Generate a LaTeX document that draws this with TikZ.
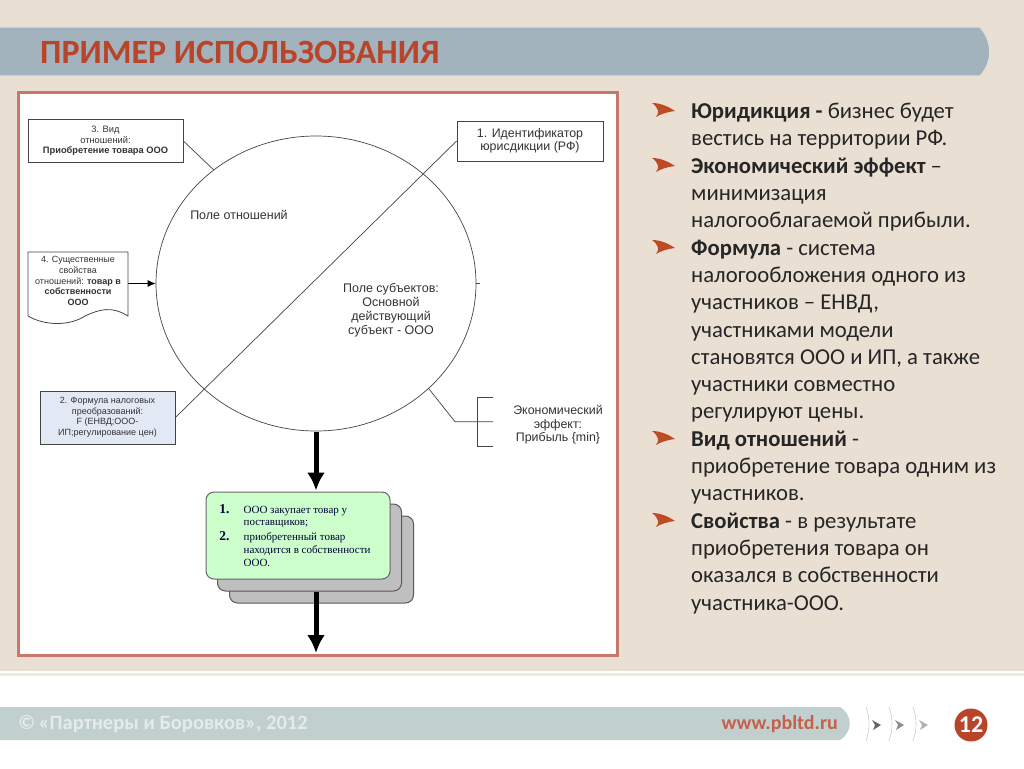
\documentclass[tikz,border=0pt]{standalone}
\usepackage{fontspec}
\setmainfont{Liberation Sans}
\newfontfamily\slidefont{Carlito}
\newfontfamily\stepfont{Liberation Serif}
\usetikzlibrary{shapes.geometric}
\usetikzlibrary{arrows.meta}
\definecolor{pagebg}{HTML}{EADFD3}
\definecolor{framered}{HTML}{C8776A}
\definecolor{barblue}{HTML}{A2B3BE}
\definecolor{footbar}{HTML}{C1CFCF}
\definecolor{rust}{HTML}{B8452A}
\definecolor{pale}{HTML}{E4EBEB}
\definecolor{linegray}{HTML}{444444}
\definecolor{paleblue}{HTML}{E2E9F4}
\definecolor{cardgreen}{HTML}{CCFFCC}
\tikzset{x=1pt,y=-1pt,
    every node/.style={text=black!80,inner sep=0pt},
    infobox/.style={
        draw=linegray,
        line width=0.8pt,
        fill=white,
        align=center},
    caption/.style={
        align=center,
        font=\fontsize{12.5}{14}\selectfont},
    link/.style={
        draw=linegray,
        line width=0.7pt},
    heavy/.style={
        draw=black,
        line width=5pt,
        -{Latex[length=18pt,width=18pt]}},
    stackcard/.style={
        draw=black!65,
        line width=1pt,
        fill=black!25,
        rounded corners=8pt,
        minimum width=184pt,
        minimum height=87pt},
    chevron/.pic={
        \fill[#1] (-12,-8) .. controls (-3,-8) and (5,-4) .. (11,0)
            .. controls (3,1) and (-3,3) .. (-8,6)
            .. controls (-4,2) and (-6,-4) .. (-12,-8) -- cycle;}}
\begin{document}
\begin{tikzpicture}
    \useasboundingbox (0,0) rectangle (1024,768);
    % slide
    \fill[pagebg] (0,0) rectangle (1024,768);
    \fill[white] (0,671) rectangle (1024,768);
    \fill[pagebg!70] (0,673) rectangle (1024,676);
    \draw[fill=barblue,draw=black!12,line width=1.2pt] (-2,27) -- (980,27)
        .. controls (993,42) and (993,62) .. (980,76) -- (-2,76) -- cycle;
    \node[anchor=west,text=rust,font=\slidefont\bfseries\fontsize{34}{36}\selectfont] (title) at (40,52) {ПРИМЕР ИСПОЛЬЗОВАНИЯ};

    % diagram
    \draw[draw=framered,line width=3pt,fill=white] (18.5,92) rectangle (617.5,655.5);
    \node[draw=linegray,line width=0.7pt,ellipse,minimum width=320pt,minimum height=295pt] (field) at (316,283.5) {};
    \node[infobox,minimum width=155pt,minimum height=43pt,font=\fontsize{9.3}{10.5}\selectfont] (kind) at (105.5,141)
        {3. Вид\\отношений:\\\textbf{Приобретение товара ООО}};
    \node[infobox,minimum width=146pt,minimum height=40pt,font=\fontsize{12.4}{13.5}\selectfont] (juris) at (530,141)
        {1. Идентификатор\\юрисдикции (РФ)};
    \node[infobox,fill=paleblue,minimum width=135pt,minimum height=53pt,font=\fontsize{9}{10.5}\selectfont] (formula) at (107.5,417.5)
        {2. Формула налоговых\\преобразований:\\F (ЕНВД;ООО-\\ИП;регулирование цен)};
    \draw[infobox] (28,252) -- (128,252) -- (128,316)
        .. controls (112,306) and (100,309) .. (85,316)
        .. controls (70,326) and (45,326) .. (28,316) -- cycle;
    \node[align=center,minimum width=100pt,font=\fontsize{9}{10.6}\selectfont] (props) at (78,281)
        {4. Существенные\\свойства\\отношений: \textbf{товар в}\\\textbf{собственности}\\\textbf{ООО}};
    \node[caption] (relfield) at (239,215) {Поле отношений};
    \node[caption] (subjfield) at (391,310) {Поле субъектов:\\Основной\\действующий\\субъект - ООО};
    \node[align=center,font=\fontsize{12.4}{13.5}\selectfont] (effect) at (558,425) {Экономический\\эффект:\\Прибыль \{min\}};

    \coordinate (tick) at (480,283.5);
    \coordinate (knee) at (455,421.7);
    \coordinate (forkmid) at (493,421.7);
    \coordinate (forktop) at (493,397);
    \coordinate (forkbot) at (493,446);
    \coordinate (forkup) at (477,397);
    \coordinate (forkdown) at (477,446);
    \draw[link] (juris.west) -- (formula.east);
    \draw[link] (kind.east) -- (field.132);
    \draw[link] (field.east) -- (tick);
    \draw[link] (field.-43.5) -- (knee) -- (forkmid);
    \draw[link] (forktop) -- (forkup) -- (forkdown) -- (forkbot);
    \draw[line width=0.8pt,-{Latex[length=8pt,width=7pt]}] (props.east |- field.west) -- (field.west);

    \node[stackcard] (cardback) at (321.5,559.5) {};
    \node[stackcard] (cardmid) at (309.5,547.5) {};
    \node[stackcard,fill=cardgreen,draw=black!60] (cardfront) at (298,535.5) {};
    \node[text=blue!20!black,font=\stepfont\fontsize{11}{12.6}\selectfont] (steps) at (295,537) {%
        \begin{tabular}{@{}l@{\hskip 14pt}l@{}}
            \textbf{\fontsize{13.5}{12.6}\selectfont 1.} & ООО закупает товар у\\
            & поставщиков;\\[2.5pt]
            \textbf{\fontsize{13.5}{12.6}\selectfont 2.} & приобретенный товар\\
            & находится в собственности\\
            & ООО.
        \end{tabular}};
    \coordinate (inflow) at (316,432);
    \coordinate (outlet) at (316,653);
    \draw[heavy] (inflow) -- ([yshift=1pt]cardfront.north -| inflow);
    \draw[heavy] (cardfront.south -| inflow) ++(0,12) -- (outlet);

    % list on the right
    \foreach \ypos in {111,166,248,439,521}
        \pic at (664,\ypos) {chevron=rust!90!orange};
    \node[anchor=north west,align=left,text=black!85,font=\slidefont\fontsize{22.7}{27.3}\selectfont] (points) at (691,103) {%
        \textbf{Юридикция -} бизнес будет\\
        вестись на территории РФ.\\
        \textbf{Экономический эффект} –\\
        минимизация\\
        налогооблагаемой прибыли.\\
        \textbf{Формула} - система\\
        налогообложения одного из\\
        участников – ЕНВД,\\
        участниками модели\\
        становятся ООО и ИП, а также\\
        участники совместно\\
        регулируют цены.\\
        \textbf{Вид отношений} -\\
        приобретение товара одним из\\
        участников.\\
        \textbf{Свойства} - в результате\\
        приобретения товара он\\
        оказался в собственности\\
        участника-ООО.};

    % footer
    \fill[footbar] (0,707) -- (840,707) .. controls (853,715) and (853,732) .. (840,740) -- (0,740) -- cycle;
    \node[anchor=west,text=pale,font=\slidefont\bfseries\fontsize{20.5}{22}\selectfont] (copy) at (18,724) {©\,«Партнеры и Боровков», 2012};
    \node[anchor=east,text=rust!85,font=\slidefont\bfseries\fontsize{20}{22}\selectfont] (site) at (838,724) {www.pbltd.ru};
    \foreach \xpos/\shade in {866/60,889/45,913/30}{
        \draw[black!20,line width=0.6pt] (\xpos,707) .. controls (\xpos+4,718) and (\xpos+4,730) .. (\xpos,741);
        \fill[black!\shade] (\xpos+6,720) -- (\xpos+15,725) -- (\xpos+7,730) -- (\xpos+9,725) -- cycle;}
    \node[circle,fill=rust,minimum size=33pt,text=white,font=\slidefont\bfseries\fontsize{24}{26}\selectfont] (pageno) at (971,725) {12};
\end{tikzpicture}
\end{document}
